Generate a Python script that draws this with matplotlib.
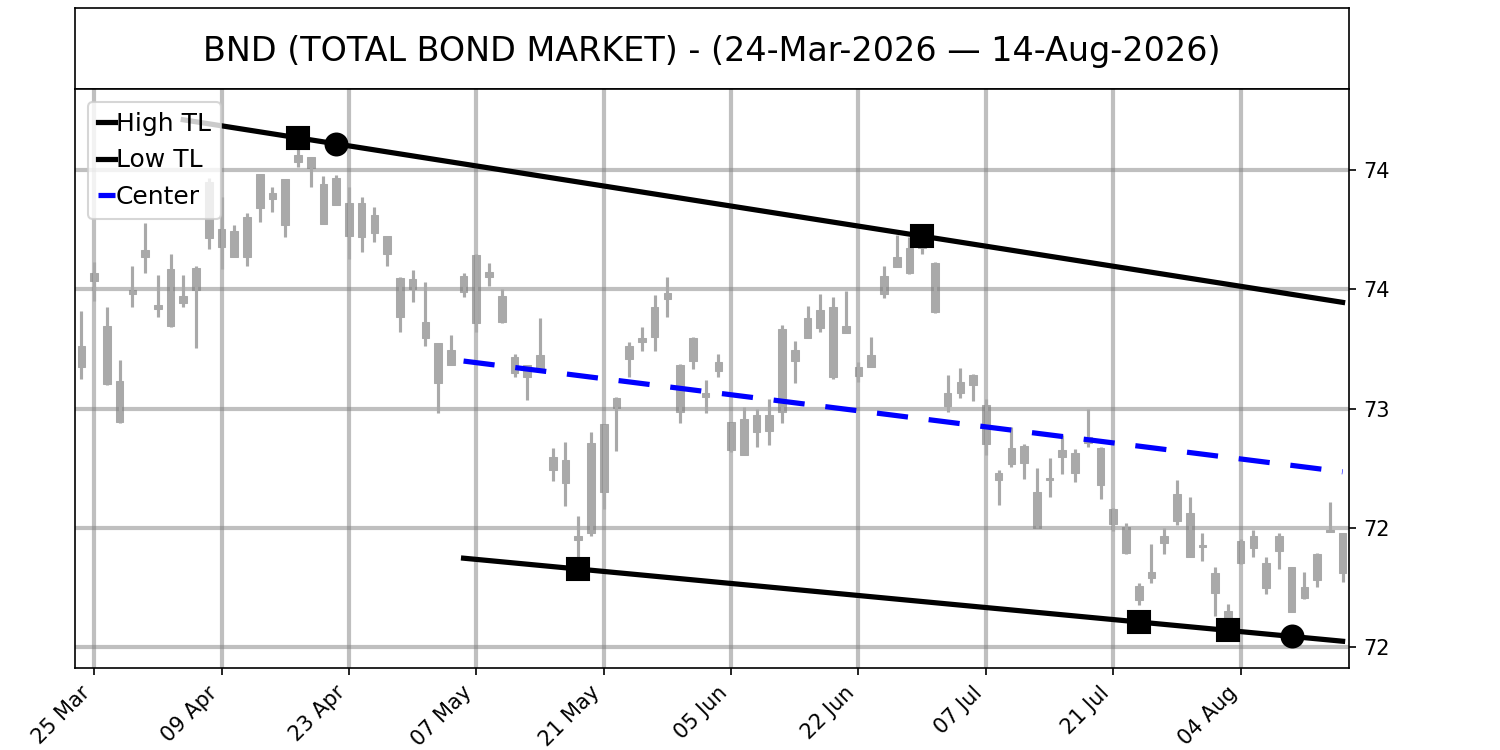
import matplotlib
matplotlib.use("Agg")
import matplotlib.pyplot as plt
from matplotlib.ticker import MultipleLocator, FormatStrFormatter
import numpy as np
import pandas as pd

# trading days 24-Mar-2026 .. 14-Aug-2026 (US market holidays removed)
holidays = ["2026-04-03", "2026-05-25", "2026-06-19", "2026-07-03"]
dates = [d for d in pd.bdate_range("2026-03-24", "2026-08-14")
         if d.strftime("%Y-%m-%d") not in holidays]

opens = [73.262, 73.536, 73.346, 73.117, 73.480, 73.636, 73.434, 73.346, 73.472, 73.497,
         73.715, 73.751, 73.743, 73.636, 73.839, 73.902, 73.961, 74.035, 74.053, 73.941,
         73.853, 73.860, 73.718, 73.811, 73.723, 73.546, 73.500, 73.361, 73.276, 73.181,
         73.488, 73.645, 73.553, 73.472, 73.215, 73.182, 73.157, 72.795, 72.784, 72.465,
         72.477, 72.649, 73.001, 73.208, 73.279, 73.299, 73.458, 73.182, 73.199, 73.066,
         73.158, 72.945, 72.805, 72.903, 72.973, 72.987, 73.245, 73.294, 73.336, 73.424,
         73.318, 73.175, 73.175, 73.480, 73.595, 73.567, 73.673, 73.611, 73.064, 73.066,
         73.099, 73.015, 72.728, 72.767, 72.770, 72.651, 72.700, 72.795, 72.815, 72.854,
         72.833, 72.577, 72.504, 72.256, 72.288, 72.437, 72.530, 72.563, 72.419, 72.312,
         72.152, 72.351, 72.414, 72.353, 72.404, 72.337, 72.208, 72.281, 72.483, 72.477]
closes = [73.175, 73.569, 73.103, 72.945, 73.497, 73.665, 73.418, 73.584, 73.441, 73.588,
          73.950, 73.676, 73.636, 73.804, 73.983, 73.877, 73.769, 74.063, 74.007, 73.774,
          73.965, 73.725, 73.860, 73.737, 73.647, 73.385, 73.542, 73.297, 73.108, 73.245,
          73.556, 73.357, 73.574, 73.364, 73.148, 73.131, 73.224, 72.742, 72.689, 72.449,
          72.857, 72.935, 73.045, 73.262, 73.296, 73.424, 73.486, 72.987, 73.294, 73.047,
          73.194, 72.826, 72.955, 72.973, 72.907, 73.332, 73.200, 73.378, 73.413, 73.133,
          73.346, 73.136, 73.224, 73.556, 73.634, 73.672, 73.707, 73.406, 73.010, 73.112,
          73.140, 72.851, 72.700, 72.833, 72.843, 72.498, 72.706, 72.826, 72.728, 72.882,
          72.679, 72.516, 72.393, 72.197, 72.316, 72.465, 72.644, 72.379, 72.428, 72.228,
          72.110, 72.446, 72.465, 72.250, 72.465, 72.148, 72.253, 72.390, 72.493, 72.309]
highs = [73.410, 73.616, 73.426, 73.203, 73.597, 73.778, 73.560, 73.648, 73.560, 73.597,
         73.966, 73.886, 73.769, 73.821, 73.983, 73.927, 73.961, 74.100, 74.053, 73.975,
         73.979, 73.927, 73.886, 73.846, 73.723, 73.550, 73.581, 73.529, 73.276, 73.308,
         73.569, 73.648, 73.611, 73.500, 73.227, 73.182, 73.378, 72.833, 72.860, 72.549,
         72.900, 72.935, 73.049, 73.280, 73.343, 73.476, 73.553, 73.187, 73.301, 73.119,
         73.229, 72.945, 73.008, 72.999, 73.039, 73.350, 73.284, 73.430, 73.480, 73.466,
         73.494, 73.196, 73.299, 73.597, 73.727, 73.718, 73.719, 73.616, 73.140, 73.169,
         73.145, 73.039, 72.742, 72.921, 72.851, 72.749, 72.791, 72.889, 72.829, 72.999,
         72.837, 72.582, 72.519, 72.270, 72.432, 72.498, 72.700, 72.628, 72.479, 72.334,
         72.180, 72.452, 72.493, 72.379, 72.479, 72.337, 72.316, 72.393, 72.609, 72.479]
lows = [73.122, 73.452, 73.100, 72.938, 73.427, 73.569, 73.385, 73.343, 73.427, 73.252,
        73.669, 73.584, 73.636, 73.599, 73.781, 73.823, 73.720, 74.011, 73.927, 73.774,
        73.853, 73.626, 73.657, 73.699, 73.599, 73.322, 73.448, 73.262, 72.982, 73.181,
        73.469, 73.322, 73.514, 73.360, 73.133, 73.036, 73.152, 72.697, 72.592, 72.365,
        72.465, 72.577, 72.823, 73.131, 73.242, 73.242, 73.382, 72.940, 73.164, 72.982,
        73.133, 72.818, 72.805, 72.840, 72.847, 72.938, 73.108, 73.294, 73.322, 73.122,
        73.318, 73.112, 73.175, 73.462, 73.595, 73.564, 73.648, 73.399, 72.987, 73.043,
        73.033, 72.805, 72.595, 72.753, 72.703, 72.498, 72.630, 72.725, 72.693, 72.837,
        72.623, 72.488, 72.390, 72.176, 72.270, 72.390, 72.512, 72.376, 72.362, 72.130,
        72.106, 72.348, 72.376, 72.225, 72.326, 72.148, 72.204, 72.253, 72.483, 72.274]

# trendlines: (start index, start value, end index, end value)
high_tl = (8, 74.21, 99, 73.445)
low_tl = (30, 72.373, 99, 72.025)
high_squares = [17, 66]
high_circles = [20]
low_squares = [39, 83, 90]
low_circles = [95]

title = "BND (TOTAL BOND MARKET) - (24-Mar-2026 \u2014 14-Aug-2026)"
candle_color = "darkgray"


def tl_value(tl, i):
    i0, v0, i1, v1 = tl
    return v0 + (v1 - v0) * (np.asarray(i) - i0) / (i1 - i0)


fig = plt.figure(figsize=(10, 5), dpi=150)
ax_t = fig.add_axes([0.05, 0.8807, 0.8493, 0.1083])
ax_t.set_xticks([])
ax_t.set_yticks([])
ax_t.text(0.5, 0.47, title, ha="center", va="center", fontsize=16, transform=ax_t.transAxes)

ax = fig.add_axes([0.05, 0.1097, 0.8493, 0.771])
x = np.arange(len(opens))
o = np.array(opens)
c = np.array(closes)
body_lo = np.minimum(o, c)
body_h = np.maximum(np.abs(c - o), 0.008)
ax.vlines(x, lows, highs, color=candle_color, linewidth=1.5, zorder=2)
ax.bar(x, body_h, bottom=body_lo, width=0.6, color=candle_color,
       edgecolor=candle_color, linewidth=0.5, zorder=1)

hx = np.array([high_tl[0], high_tl[2]])
lx = np.array([low_tl[0], low_tl[2]])
ax.plot(hx, tl_value(high_tl, hx), color="black", lw=2.5, label="High TL", zorder=3)
ax.plot(lx, tl_value(low_tl, lx), color="black", lw=2.5, label="Low TL", zorder=3)
cx = np.array([low_tl[0], low_tl[2]])
center = (tl_value(high_tl, cx) + tl_value(low_tl, cx)) / 2
ax.plot(cx, center, color="blue", lw=2.5, dashes=(6, 4), label="Center", zorder=3)

ax.plot(high_squares, tl_value(high_tl, high_squares), "s", color="black", ms=10.5, zorder=4)
ax.plot(high_circles, tl_value(high_tl, high_circles), "o", color="black", ms=10.5, zorder=4)
ax.plot(low_squares, tl_value(low_tl, low_squares), "s", color="black", ms=10.5, zorder=4)
ax.plot(low_circles, tl_value(low_tl, low_circles), "o", color="black", ms=10.5, zorder=4)

ax.set_xlim(-0.5, len(opens) - 0.5)
ax.set_ylim(71.914, 74.337)
tick_idx = list(range(1, len(dates), 10))
ax.set_xticks(tick_idx)
ax.set_xticklabels([dates[i].strftime("%d %b") for i in tick_idx], rotation=45, ha="right")
ax.yaxis.tick_right()
ax.yaxis.set_major_locator(MultipleLocator(0.5))
ax.yaxis.set_major_formatter(FormatStrFormatter("%.0f"))
ax.grid(True, color="gray", alpha=0.5, linewidth=2)
ax.legend(loc="upper left", fontsize=12, handlelength=0.68, handletextpad=0.05,
          borderpad=0.4, labelspacing=0.5, borderaxespad=0.5)

fig.savefig("out.png", dpi=150)
